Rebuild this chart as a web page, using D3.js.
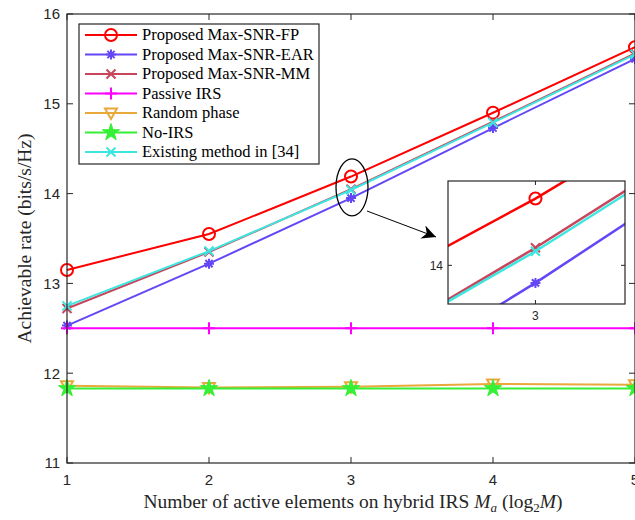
<!DOCTYPE html>
<html>
<head>
<meta charset="utf-8">
<script src="https://cdn.jsdelivr.net/npm/d3@7"></script>
<style>
  body { margin: 0; background: #fff; }
  svg { display: block; }
</style>
</head>
<body>
<script>
// chart data
var xTicks = [1, 2, 3, 4, 5];
var yTicks = [11, 12, 13, 14, 15, 16];
var elements = [1, 2, 3, 4, 5];

var fpRate       = [13.15, 13.55, 14.19, 14.90, 15.63];
var earRate      = [12.53, 13.22, 13.95, 14.73, 15.50];
var mmRate       = [12.72, 13.35, 14.05, 14.80, 15.56];
var passiveRate  = [12.50, 12.50, 12.50, 12.50, 12.50];
var randomRate   = [11.86, 11.84, 11.85, 11.88, 11.87];
var noIrsRate    = [11.83, 11.83, 11.83, 11.83, 11.83];
var existingRate = [12.75, 13.36, 14.04, 14.79, 15.55];

var seriesNames = ["Proposed Max-SNR-FP", "Proposed Max-SNR-EAR", "Proposed Max-SNR-MM",
                   "Passive IRS", "Random phase", "No-IRS", "Existing method in [34]"];

// styles
var series = [
  {name: seriesNames[0], values: fpRate,       color: "#ff0000", marker: "circle"},
  {name: seriesNames[1], values: earRate,      color: "#6347f7", marker: "asterisk"},
  {name: seriesNames[2], values: mmRate,       color: "#c8455c", marker: "cross"},
  {name: seriesNames[3], values: passiveRate,  color: "#ff00ff", marker: "plus"},
  {name: seriesNames[4], values: randomRate,   color: "#e9a93a", marker: "triangle"},
  {name: seriesNames[5], values: noIrsRate,    color: "#35f035", marker: "star"},
  {name: seriesNames[6], values: existingRate, color: "#3de6e0", marker: "cross"}
];

var W = 635, H = 520;
var axisColor = "#262626";
var sans = "'Liberation Sans', Arial, sans-serif";
var serif = "'Liberation Serif', 'Times New Roman', serif";

var svg = d3.select("body").append("svg")
            .attr("width", W)
            .attr("height", H);

// main plot area
var plot = {left: 67, right: 635, top: 14, bottom: 463};

var x = d3.scaleLinear().domain([1, 5]).range([plot.left, plot.right]);
var y = d3.scaleLinear().domain([11, 16]).range([plot.bottom, plot.top]);

// marker drawing
function markerPath(type, s) {
  if (type === "circle") return d3.symbol(d3.symbolCircle, Math.PI * s * s)();
  if (type === "cross") return "M" + (-s) + "," + (-s) + "L" + s + "," + s + "M" + (-s) + "," + s + "L" + s + "," + (-s);
  if (type === "plus") return "M" + (-s) + ",0L" + s + ",0M0," + (-s) + "L0," + s;
  if (type === "asterisk") {
    var a = s * 0.72;
    return "M" + (-s) + ",0L" + s + ",0M0," + (-s) + "L0," + s +
           "M" + (-a) + "," + (-a) + "L" + a + "," + a + "M" + (-a) + "," + a + "L" + a + "," + (-a);
  }
  if (type === "triangle") return "M" + (-s) + "," + (-s * 0.75) + "L" + s + "," + (-s * 0.75) + "L0," + (s * 1.0) + "Z";
  if (type === "star") return d3.symbol(d3.symbolStar, s * s / 0.89)();
  return "";
}

function addMarker(g, type, color, cx, cy, s) {
  var filled = type === "star";
  g.append("path")
   .attr("transform", "translate(" + cx + "," + cy + ")")
   .attr("d", markerPath(type, s))
   .attr("fill", filled ? color : "none")
   .attr("stroke", color)
   .attr("stroke-width", filled ? 1 : 2);
}

var markerSize = {circle: 6, asterisk: 5, cross: 4.5, plus: 6, triangle: 6, star: 9};

function drawSeries(g, xs, ys, width) {
  var line = d3.line()
               .x(function(d, i) { return xs(elements[i]); })
               .y(function(d) { return ys(d); });
  series.forEach(function(s) {
    g.append("path")
     .datum(s.values)
     .attr("d", line)
     .attr("fill", "none")
     .attr("stroke", s.color)
     .attr("stroke-width", width);
    s.values.forEach(function(v, i) {
      addMarker(g, s.marker, s.color, xs(elements[i]), ys(v), markerSize[s.marker]);
    });
  });
}

drawSeries(svg.append("g"), x, y, 2);

// axes box with inward ticks
var ax = svg.append("g");
ax.append("rect")
  .attr("x", plot.left).attr("y", plot.top)
  .attr("width", plot.right - plot.left).attr("height", plot.bottom - plot.top)
  .attr("fill", "none").attr("stroke", axisColor).attr("stroke-width", 1.2);

xTicks.forEach(function(t) {
  ax.append("line").attr("x1", x(t)).attr("x2", x(t)).attr("y1", plot.bottom).attr("y2", plot.bottom - 6)
    .attr("stroke", axisColor);
  ax.append("line").attr("x1", x(t)).attr("x2", x(t)).attr("y1", plot.top).attr("y2", plot.top + 6)
    .attr("stroke", axisColor);
  ax.append("text").attr("x", x(t)).attr("y", plot.bottom + 22)
    .attr("text-anchor", "middle").attr("font-family", sans).attr("font-size", 15)
    .attr("fill", axisColor).text(t);
});
yTicks.forEach(function(t) {
  ax.append("line").attr("x1", plot.left).attr("x2", plot.left + 6).attr("y1", y(t)).attr("y2", y(t))
    .attr("stroke", axisColor);
  ax.append("line").attr("x1", plot.right).attr("x2", plot.right - 6).attr("y1", y(t)).attr("y2", y(t))
    .attr("stroke", axisColor);
  ax.append("text").attr("x", plot.left - 7).attr("y", y(t)).attr("dy", "0.36em")
    .attr("text-anchor", "end").attr("font-family", sans).attr("font-size", 15)
    .attr("fill", axisColor).text(t);
});

// axis titles
var xl = svg.append("text")
  .attr("x", 353).attr("y", 508)
  .attr("text-anchor", "middle").attr("font-family", serif).attr("font-size", 19.5)
  .attr("fill", axisColor);
xl.append("tspan").text("Number of active elements on hybrid IRS ");
xl.append("tspan").attr("font-style", "italic").text("M");
xl.append("tspan").attr("font-style", "italic").attr("font-size", 13).attr("dy", 4).text("a");
xl.append("tspan").attr("dy", -4).text(" (log");
xl.append("tspan").attr("font-size", 13).attr("dy", 4).text("2");
xl.append("tspan").attr("dy", -4).attr("font-style", "italic").text("M");
xl.append("tspan").text(")");

svg.append("text")
  .attr("transform", "translate(31," + ((plot.top + plot.bottom) / 2) + ") rotate(-90)")
  .attr("text-anchor", "middle").attr("font-family", serif).attr("font-size", 19.5)
  .attr("fill", axisColor)
  .text("Achievable rate (bits/s/Hz)");

// legend
var leg = svg.append("g");
leg.append("rect")
   .attr("x", 79).attr("y", 24).attr("width", 240).attr("height", 140)
   .attr("fill", "#fff").attr("stroke", axisColor).attr("stroke-width", 1.2);
series.forEach(function(s, i) {
  var ly = 35 + i * 19.5;
  leg.append("line").attr("x1", 85).attr("x2", 137).attr("y1", ly).attr("y2", ly)
     .attr("stroke", s.color).attr("stroke-width", 2);
  addMarker(leg, s.marker, s.color, 111, ly, markerSize[s.marker]);
  leg.append("text").attr("x", 142).attr("y", ly).attr("dy", "0.33em")
     .attr("font-family", serif).attr("font-size", 16.5).attr("fill", "#000")
     .text(s.name);
});

// ellipse around x = 3 and arrow to the inset
svg.append("ellipse")
   .attr("cx", x(3) + 1).attr("cy", y(14.07))
   .attr("rx", 16).attr("ry", 28.5)
   .attr("fill", "none").attr("stroke", "#000").attr("stroke-width", 1.3);

svg.append("defs").append("marker")
   .attr("id", "head").attr("viewBox", "0 0 10 10")
   .attr("refX", 10).attr("refY", 5)
   .attr("markerWidth", 18).attr("markerHeight", 14).attr("markerUnits", "userSpaceOnUse")
   .attr("orient", "auto")
   .append("path").attr("d", "M0,0L10,5L0,10L3,5Z").attr("fill", "#000");

svg.append("line")
   .attr("x1", 367).attr("y1", 211).attr("x2", 436).attr("y2", 237)
   .attr("stroke", "#000").attr("stroke-width", 1)
   .attr("marker-end", "url(#head)");

// zoomed inset
var inset = {left: 448, right: 625, top: 181, bottom: 304};
var xi = d3.scaleLinear().domain([2.79, 3.215]).range([inset.left, inset.right]);
var yi = d3.scaleLinear().domain([13.89, 14.24]).range([inset.bottom, inset.top]);

svg.append("rect")
   .attr("x", inset.left).attr("y", inset.top)
   .attr("width", inset.right - inset.left).attr("height", inset.bottom - inset.top)
   .attr("fill", "#fff");

svg.select("defs").append("clipPath").attr("id", "insetClip")
   .append("rect")
   .attr("x", inset.left).attr("y", inset.top)
   .attr("width", inset.right - inset.left).attr("height", inset.bottom - inset.top);

drawSeries(svg.append("g").attr("clip-path", "url(#insetClip)"), xi, yi, 2.5);

var ia = svg.append("g");
ia.append("rect")
  .attr("x", inset.left).attr("y", inset.top)
  .attr("width", inset.right - inset.left).attr("height", inset.bottom - inset.top)
  .attr("fill", "none").attr("stroke", axisColor).attr("stroke-width", 1.2);
ia.append("line").attr("x1", xi(3)).attr("x2", xi(3)).attr("y1", inset.bottom).attr("y2", inset.bottom - 4)
  .attr("stroke", axisColor);
ia.append("line").attr("x1", xi(3)).attr("x2", xi(3)).attr("y1", inset.top).attr("y2", inset.top + 4)
  .attr("stroke", axisColor);
ia.append("line").attr("x1", inset.left).attr("x2", inset.left + 4).attr("y1", yi(14)).attr("y2", yi(14))
  .attr("stroke", axisColor);
ia.append("line").attr("x1", inset.right).attr("x2", inset.right - 4).attr("y1", yi(14)).attr("y2", yi(14))
  .attr("stroke", axisColor);
ia.append("text").attr("x", xi(3)).attr("y", inset.bottom + 16)
  .attr("text-anchor", "middle").attr("font-family", sans).attr("font-size", 12)
  .attr("fill", axisColor).text("3");
ia.append("text").attr("x", inset.left - 5).attr("y", yi(14)).attr("dy", "0.36em")
  .attr("text-anchor", "end").attr("font-family", sans).attr("font-size", 12)
  .attr("fill", axisColor).text("14");
</script>
</body>
</html>
